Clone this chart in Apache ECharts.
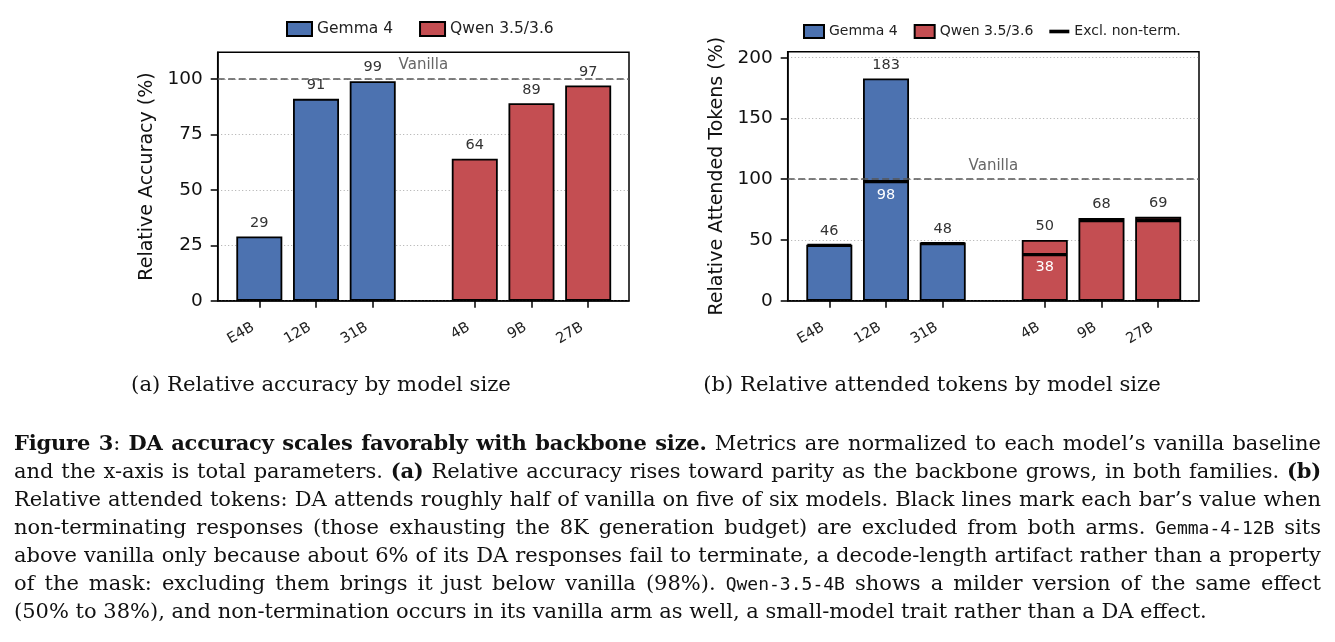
<!DOCTYPE html>
<html><head><meta charset="utf-8">
<script src="https://cdn.jsdelivr.net/npm/echarts@6/dist/echarts.min.js"></script>
<style>
html,body{margin:0;padding:0;background:#fff;}
#chart{position:absolute;left:0;top:0;width:1335px;height:642px;}
#caption{position:absolute;left:14px;top:429px;width:1307px;font-family:'DejaVu Serif';font-size:21px;line-height:28px;color:#111;}
#caption div{height:28px;white-space:nowrap;text-align:justify;text-align-last:justify;}
#caption div.last{text-align:left;text-align-last:left;}
#caption b{letter-spacing:-0.2px;}
.mono{font-family:'DejaVu Sans Mono';font-size:18px;line-height:20px;}
</style></head>
<body>
<div id="chart"></div>
<div id="caption">
<div><b>Figure 3</b>: <b>DA accuracy scales favorably with backbone size.</b> Metrics are normalized to each model’s vanilla baseline</div>
<div>and the x-axis is total parameters. <b>(a)</b> Relative accuracy rises toward parity as the backbone grows, in both families. <b>(b)</b></div>
<div>Relative attended tokens: DA attends roughly half of vanilla on five of six models. Black lines mark each bar’s value when</div>
<div>non-terminating responses (those exhausting the 8K generation budget) are excluded from both arms. <span class="mono">Gemma-4-12B</span> sits</div>
<div>above vanilla only because about 6% of its DA responses fail to terminate, a decode-length artifact rather than a property</div>
<div>of the mask: excluding them brings it just below vanilla (98%). <span class="mono">Qwen-3.5-4B</span> shows a milder version of the same effect</div>
<div class="last">(50% to 38%), and non-termination occurs in its vanilla arm as well, a small-model trait rather than a DA effect.</div>
</div>
<script>
// ---- data ----
const categories = ['E4B', '12B', '31B', '4B', '9B', '27B'];
const gemmaName = 'Gemma 4';
const qwenName = 'Qwen 3.5/3.6';
const exclName = 'Excl. non-term.';
const gemmaAccuracy = [29, 91, 99];
const qwenAccuracy = [64, 89, 97];
const gemmaTokens = [46, 183, 48];
const qwenTokens = [50, 68, 69];
const exclNonTermTokens = [45.5, 98, 47, 38, 66, 66];
const accuracyTicks = [0, 25, 50, 75, 100];
const tokenTicks = [0, 50, 100, 150, 200];
const vanillaLevel = 100;
const vanillaLabel = 'Vanilla';
const subcaptionA = '(a) Relative accuracy by model size';
const subcaptionB = '(b) Relative attended tokens by model size';

// ---- layout ----
const FONT = 'DejaVu Sans';
const BLUE = '#4C72B0', RED = '#C44E52';
const familyGap = 0.8;
const positions = categories.map((c, i) => i + (i >= 3 ? familyGap : 0));
const xMin = positions[0] - 0.734, xMax = positions[positions.length - 1] + 0.72;
const barW = 46;

function catLabel(v) {
  for (let i = 0; i < positions.length; i++) if (Math.abs(positions[i] - v) < 1e-6) return categories[i];
  return '';
}

function xAxisCfg(g) {
  return {
    type: 'value', gridIndex: g, min: xMin, max: xMax,
    axisLine: { show: true, onZero: false, lineStyle: { color: '#000', width: 1.5 } },
    axisTick: { show: true, customValues: positions, length: 7, lineStyle: { color: '#000', width: 1.5 } },
    axisLabel: { customValues: positions, rotate: 30, formatter: catLabel, fontSize: 14.5, fontFamily: FONT, color: '#222', margin: 22, padding: [0, 7, 0, 0] },
    splitLine: { show: false }
  };
}
function yAxisCfg(g, ticks, maxVal, name) {
  return {
    type: 'value', gridIndex: g, min: 0, max: Math.max(vanillaLevel, maxVal) * 1.12,
    interval: ticks[1] - ticks[0],
    axisLine: { show: true, onZero: false, lineStyle: { color: '#000', width: 1.5 } },
    axisTick: { show: true, customValues: ticks, length: 7, lineStyle: { color: '#000', width: 1.5 } },
    axisLabel: { customValues: ticks, fontSize: 18.5, fontFamily: FONT, color: '#111', margin: 15 },
    splitLine: { show: true, lineStyle: { type: [1, 2.5], color: '#aaa', width: 1 } },
    name: name, nameLocation: 'middle', nameGap: 61,
    nameTextStyle: { fontSize: 19, fontFamily: FONT, color: '#111' }
  };
}
function barSeries(name, g, vals, offset, color, withMark) {
  const s = {
    type: 'bar', name: name, xAxisIndex: g, yAxisIndex: g,
    data: vals.map((v, i) => [positions[i + offset], v]),
    barWidth: barW, barGap: '-100%',
    itemStyle: { color: color, borderColor: '#000', borderWidth: 1.8 },
    label: { show: true, position: 'top', distance: 6, fontSize: 14.5, fontFamily: FONT, color: '#333', formatter: p => p.value[1] },
    z: 2
  };
  if (withMark) {
    s.markLine = {
      silent: true, symbol: ['none', 'none'], animation: false,
      data: [{ yAxis: vanillaLevel }],
      lineStyle: { color: '#555', type: [7, 3.5], width: 1.5 },
      label: { show: true, position: 'insideMiddleTop', formatter: vanillaLabel, color: '#666', fontSize: 15, fontFamily: FONT, distance: 6 }
    };
  }
  return s;
}

const allTokens = gemmaTokens.concat(qwenTokens);
const option = {
  animation: false,
  backgroundColor: '#fff',
  grid: [
    { left: 217.7, top: 52.3, width: 411.3, height: 248.4, show: true, borderColor: '#000', borderWidth: 1.5, backgroundColor: 'transparent' },
    { left: 787.7, top: 51.7, width: 411.3, height: 249, show: true, borderColor: '#000', borderWidth: 1.5, backgroundColor: 'transparent' }
  ],
  xAxis: [xAxisCfg(0), xAxisCfg(1)],
  yAxis: [
    yAxisCfg(0, accuracyTicks, Math.max(...gemmaAccuracy, ...qwenAccuracy), 'Relative Accuracy (%)'),
    yAxisCfg(1, tokenTicks, Math.max(...allTokens), 'Relative Attended Tokens (%)')
  ],
  legend: [
    {
      left: 286, top: 21, padding: 0, itemWidth: 25, itemHeight: 14, itemGap: 26,
      textStyle: { fontSize: 15.5, fontFamily: FONT, color: '#222' },
      data: [{ name: gemmaName, icon: 'rect' }, { name: qwenName, icon: 'rect' }],
      selectedMode: false
    },
    {
      left: 803, top: 24, padding: 0, itemWidth: 20, itemHeight: 13, itemGap: 16,
      textStyle: { fontSize: 14, fontFamily: FONT, color: '#222' },
      data: [
        { name: gemmaName, icon: 'rect' }, { name: qwenName, icon: 'rect' },
        { name: exclName, icon: 'path://M0,0 M0,4.6 L21,4.6 L21,8.4 L0,8.4 Z M21,13', itemStyle: { color: '#000', borderWidth: 0 } }
      ],
      selectedMode: false
    }
  ],
  series: [
    barSeries(gemmaName, 0, gemmaAccuracy, 0, BLUE, true),
    barSeries(qwenName, 0, qwenAccuracy, 3, RED, false),
    barSeries(gemmaName, 1, gemmaTokens, 0, BLUE, true),
    barSeries(qwenName, 1, qwenTokens, 3, RED, false),
    {
      type: 'scatter', name: exclName, xAxisIndex: 1, yAxisIndex: 1,
      symbol: 'rect', symbolSize: [barW - 2, 3.3],
      itemStyle: { color: '#000', opacity: 1 },
      z: 5,
      data: exclNonTermTokens.map((v, i) => ({
        value: [positions[i], v],
        label: { show: allTokens[i] - v >= 5 }
      })),
      label: { position: 'bottom', distance: 4, fontSize: 14.5, fontFamily: FONT, color: '#fff', formatter: p => p.value[1] }
    }
  ],
  graphic: [
    { type: 'text', x: 321, y: 385, style: { text: subcaptionA, fill: '#111', font: '21.2px "DejaVu Serif"', align: 'center', verticalAlign: 'middle', textAlign: 'center', textVerticalAlign: 'middle' } },
    { type: 'text', x: 932, y: 385, style: { text: subcaptionB, fill: '#111', font: '21.2px "DejaVu Serif"', align: 'center', verticalAlign: 'middle', textAlign: 'center', textVerticalAlign: 'middle' } }
  ]
};
const chart = echarts.init(document.getElementById('chart'), null, { renderer: 'canvas' });
chart.setOption(option);
</script>
</body></html>
